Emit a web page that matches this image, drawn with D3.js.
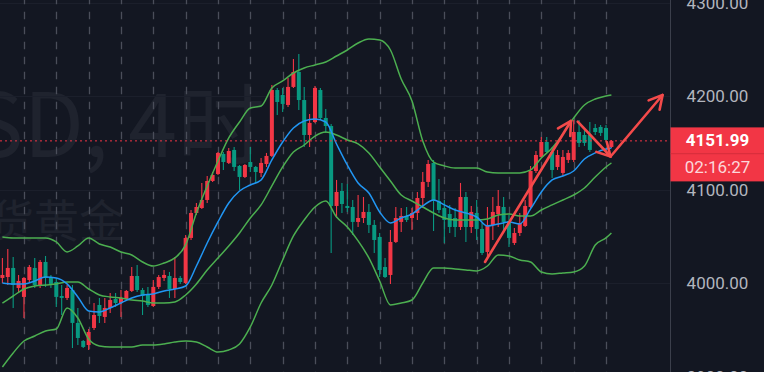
<!DOCTYPE html>
<html><head><meta charset="utf-8">
<script src="https://cdn.jsdelivr.net/npm/d3@7"></script>
<style>html,body{margin:0;padding:0;background:#131722;overflow:hidden}svg{display:block}</style>
</head><body>
<svg id="chart" width="764" height="372"></svg>
<script>
// ---------- DATA (XAUUSD 4H, candle index 0..113) ----------
const opens = [4005.4,4006.4,4016.1,3994.7,3985.1,4003.2,4016.1,3997.9,4022.5,4005.4,
4001.1,3986.1,3984.0,3992.5,3957.3,3938.0,3933.7,3951.9,3976.5,3963.7,
3973.3,3982.9,3978.6,3982.9,3991.5,4007.5,3992.5,3987.2,3975.4,3995.8,
4005.4,4007.5,3993.6,4005.4,4000.0,4048.2,4074.9,4080.2,4088.8,4109.1,
4116.6,4138.0,4128.4,4142.3,4125.2,4113.4,4129.4,4124.1,4117.7,4127.3,
4135.9,4206.4,4201.1,4190.4,4209.7,4225.7,4195.7,4158.3,4172.2,4206.4,
4176.5,4167.9,4082.4,4098.4,4082.4,4081.3,4065.3,4069.5,4076.0,4062.1,
4049.2,4017.1,4008.6,4043.9,4065.3,4071.7,4069.5,4074.9,4090.9,4108.1,
4128.4,4087.7,4080.2,4073.8,4069.5,4059.9,4092.0,4059.9,4074.9,4057.8,
4033.2,4062.1,4073.8,4081.3,4066.3,4042.8,4053.5,4061.0,4081.3,4119.8,
4134.8,4150.8,4140.1,4124.1,4117.7,4131.6,4131.6,4161.5,4158.3,4158.3,
4165.8,4166.9,4165.8,4145.5];
const highs = [4026.8,4036.4,4027.8,4008.6,4006.4,4019.3,4026.8,4024.6,4028.9,4008.6,
4005.4,3997.9,3997.9,3997.9,3973.3,3939.1,3950.8,3978.6,3984.0,3984.0,
3989.3,3989.3,3992.5,3992.5,4017.1,4019.3,3994.7,3995.8,4003.2,4008.6,
4013.9,4011.8,4027.8,4007.5,4051.4,4078.1,4085.6,4107.0,4114.5,4118.7,
4140.1,4140.1,4144.4,4145.5,4126.2,4127.3,4145.5,4125.2,4133.7,4139.1,
4211.8,4208.6,4208.6,4219.3,4239.6,4244.9,4209.7,4180.8,4210.7,4208.6,
4186.1,4170.1,4110.2,4107.0,4105.9,4088.8,4094.1,4092.0,4084.5,4067.4,
4053.5,4026.8,4056.7,4081.3,4080.2,4081.3,4080.2,4097.4,4118.7,4131.6,
4131.6,4111.3,4088.8,4083.5,4080.2,4107.0,4097.4,4082.4,4088.8,4064.2,
4081.3,4092.0,4099.5,4092.0,4072.8,4058.9,4074.9,4088.8,4125.2,4141.2,
4156.2,4156.2,4145.5,4142.3,4142.3,4142.3,4174.4,4174.4,4163.7,4172.2,
4170.1,4169.0,4169.0,4153.0];
const lows = [4000.0,3997.9,3973.3,3989.3,3962.6,4001.1,3994.7,3994.7,3995.8,3994.7,
3974.4,3965.8,3981.8,3930.5,3933.7,3930.5,3928.4,3949.8,3957.3,3957.3,
3967.9,3974.4,3963.7,3981.8,3990.4,3990.4,3965.8,3974.4,3974.4,3993.6,
4002.2,3984.0,3984.0,3999.0,3999.0,4046.0,4072.8,4079.2,4085.6,4108.1,
4115.5,4120.9,4127.3,4119.8,4099.5,4112.3,4118.7,4107.0,4113.4,4124.1,
4134.8,4179.7,4182.9,4188.3,4208.6,4185.1,4145.5,4145.5,4171.2,4174.4,
4160.5,4032.1,4069.5,4074.9,4076.0,4051.4,4059.9,4064.2,4053.5,4032.1,
4006.4,4005.4,3999.0,4042.8,4054.6,4065.3,4056.7,4067.4,4080.2,4102.7,
4055.6,4074.9,4042.8,4053.5,4049.2,4056.7,4043.9,4053.5,4046.0,4030.0,
4026.8,4046.0,4059.9,4053.5,4038.5,4040.7,4050.3,4059.9,4080.2,4117.7,
4133.7,4139.1,4112.3,4120.9,4114.5,4128.4,4129.4,4145.5,4146.6,4140.1,
4158.3,4157.2,4150.8,4144.4];
const closes = [4008.6,4016.1,3997.9,4002.2,4005.4,4017.1,3997.9,4022.5,4005.4,3999.0,
3985.1,3984.0,3994.7,3957.3,3941.2,3931.6,3947.6,3965.8,3964.7,3973.3,
3981.8,3978.6,3984.0,3991.5,4007.5,3992.5,3986.1,3976.5,3995.8,4006.4,
4008.6,3993.6,4005.4,4001.1,4048.2,4074.9,4081.3,4088.8,4109.1,4115.5,
4139.1,4129.4,4141.2,4124.1,4113.4,4126.2,4124.1,4118.7,4128.4,4135.9,
4206.4,4193.6,4191.5,4209.7,4225.7,4195.7,4158.3,4171.2,4208.6,4176.5,
4167.9,4082.4,4097.4,4084.5,4080.2,4065.3,4069.5,4076.0,4062.1,4046.0,
4013.9,4006.4,4043.9,4069.5,4071.7,4067.4,4074.9,4090.9,4108.1,4127.3,
4087.7,4078.1,4067.4,4059.9,4059.9,4092.0,4059.9,4076.0,4057.8,4032.1,
4062.1,4076.0,4082.4,4065.3,4048.2,4053.5,4064.2,4082.4,4119.8,4136.9,
4150.8,4140.1,4120.9,4136.9,4134.8,4139.1,4161.5,4149.8,4149.8,4142.3,
4161.5,4160.5,4153.0,4151.99];

// indicator lines, read at every 2nd candle (+ last candle)
const lineIdx = [0,2,4,6,8,10,12,14,16,18,20,22,24,26,28,30,32,34,36,38,40,42,44,46,48,50,52,54,56,58,
60,62,64,66,68,70,72,74,76,78,80,82,84,86,88,90,92,94,96,98,100,102,104,106,108,110,112,113];
const bbUpper = [4049.2,4048.2,4048.2,4048.2,4048.2,4043.9,4033.2,4039.6,4048.2,4041.7,4038.5,4033.2,4030.0,4022.5,4018.2,4021.4,4026.8,4040.7,4074.9,4103.8,
4130.5,4155.1,4172.2,4187.2,4189.3,4208.6,4216.1,4224.6,4230.0,4233.2,4236.4,4242.8,4249.2,4256.7,4261.0,4259.9,4249.2,4218.2,4194.7,4151.9,
4129.4,4125.2,4123.0,4123.0,4123.0,4118.7,4117.7,4117.7,4117.7,4120.9,4133.7,4144.4,4159.4,4176.5,4190.4,4196.8,4200.0,4201.1];
const bbMiddle = [3978.6,3986.1,3993.6,3996.8,3997.9,3999.0,4001.1,4001.1,3993.6,3987.2,3985.1,3984.0,3981.8,3980.8,3978.6,3978.6,3979.7,3987.2,3999.0,4013.9,
4026.8,4039.6,4053.5,4069.5,4083.5,4103.8,4124.1,4140.1,4147.6,4157.2,4161.5,4158.3,4153.0,4148.7,4139.1,4124.1,4109.1,4094.1,4087.7,4081.3,
4074.9,4069.5,4067.4,4067.4,4067.4,4068.5,4072.8,4073.8,4071.7,4071.7,4078.1,4083.5,4088.8,4094.1,4101.6,4113.4,4124.1,4128.4];
const bbLower = [3910.2,3925.2,3938.0,3943.3,3948.7,3950.8,3973.3,3962.6,3940.1,3932.7,3931.6,3931.6,3931.6,3933.7,3933.7,3934.8,3936.9,3938.0,3936.9,3931.6,
3926.2,3928.4,3934.8,3953.0,3978.6,3997.9,4024.6,4050.3,4067.4,4081.3,4087.7,4070.6,4059.9,4045.0,4026.8,4002.2,3976.5,3978.6,3981.8,4000.0,
4016.1,4016.1,4015.0,4013.9,4012.9,4018.2,4030.0,4028.9,4024.6,4022.5,4011.8,4009.7,4010.7,4011.8,4018.2,4040.7,4048.2,4053.5];
const maBlue = [4000.0,3999.0,3999.0,4002.2,4006.4,4005.4,3999.0,3985.1,3970.1,3969.0,3973.3,3978.6,3984.0,3987.2,3988.3,3991.5,3993.6,3996.8,4018.2,4042.8,
4065.3,4085.6,4098.4,4104.8,4110.2,4131.6,4150.8,4165.8,4173.3,4175.4,4172.2,4148.7,4126.2,4107.0,4096.3,4076.0,4064.2,4069.5,4073.8,4082.4,
4088.8,4083.5,4078.1,4074.9,4070.6,4061.0,4063.1,4065.3,4063.1,4079.2,4097.4,4110.2,4114.5,4119.8,4132.6,4139.1,4143.3,4144.4];

const priceTicks = [3900, 4000, 4100, 4200, 4300];
const sessionBreaks = [4,10,16,22,28,34,40,46,52,58,64,70,76,82,88,94,100,106,112];
const lastPrice = 4151.99;
const countdown = "02:16:27";
const watermark1 = "XAUUSD, 4时";
const watermark2 = "现货黄金";
// annotation arrows: [candle index, price] -> [candle index, price]
const arrows = [
  {from:[89.55, 4022.5], to:[105.5, 4173.3]},
  {from:[106.75, 4172.5], to:[112.85, 4135.3]},
  {from:[112.85, 4135.3], to:[122.5, 4201.1]}
];

// ---------- DRAW ----------
const W = 764, H = 372, axisX = 670.5;
const svg = d3.select("#chart");
const x = d3.scaleLinear().domain([0, 113]).range([2.4, 611.4]);
const y = d3.scaleLinear().domain([4000, 4200]).range([283, 96]);

svg.append("rect").attr("width", W).attr("height", H).attr("fill", "#131722");

const plot = svg.append("g");
// watermark
plot.append("text").attr("x", 265).attr("y", 157).attr("text-anchor", "end")
  .attr("font-family", "'Noto Sans CJK SC','Noto Sans',sans-serif").attr("font-size", 88)
  .attr("fill", "#1f232e").text(watermark1);
plot.append("text").attr("x", 124).attr("y", 238).attr("text-anchor", "end")
  .attr("font-family", "'Noto Sans CJK SC',sans-serif").attr("font-size", 45)
  .attr("fill", "#1f232e").text(watermark2);

// horizontal grid
plot.selectAll("line.hg").data(priceTicks).join("line")
  .attr("x1", 0).attr("x2", axisX).attr("y1", d => Math.round(y(d)) + 0.5).attr("y2", d => Math.round(y(d)) + 0.5)
  .attr("stroke", "#1b1f2b").attr("stroke-width", 1);

// session breaks (dashed verticals)
plot.selectAll("line.sb").data(sessionBreaks).join("line")
  .attr("x1", d => Math.round(x(d)) + 0.5).attr("x2", d => Math.round(x(d)) + 0.5)
  .attr("y1", 0).attr("y2", H)
  .attr("stroke", "#4a4e5a").attr("stroke-width", 1.3)
  .attr("stroke-dasharray", "7.5 7.5").attr("stroke-dashoffset", 3.3);

// candles
const idx = d3.range(opens.length);
const up = i => closes[i] >= opens[i];
const col = i => up(i) ? "#f23645" : "#089981";
const cg = plot.append("g");
cg.selectAll("line").data(idx).join("line")
  .attr("x1", i => x(i)).attr("x2", i => x(i))
  .attr("y1", i => y(highs[i])).attr("y2", i => y(lows[i]))
  .attr("stroke", col).attr("stroke-width", 1.1);
cg.selectAll("rect").data(idx).join("rect")
  .attr("x", i => x(i) - 2).attr("width", 4)
  .attr("y", i => y(Math.max(opens[i], closes[i])))
  .attr("height", i => Math.max(1, Math.abs(y(opens[i]) - y(closes[i]))))
  .attr("fill", col);

// indicator lines
const lineGen = vals => d3.line().x((d, k) => x(lineIdx[k])).y(d => y(d)).curve(d3.curveMonotoneX)(vals);
[[bbUpper, "#4caf50"], [bbMiddle, "#4caf50"], [bbLower, "#4caf50"], [maBlue, "#2196f3"]].forEach(([vals, c]) => {
  plot.append("path").attr("d", lineGen(vals)).attr("fill", "none").attr("stroke", c).attr("stroke-width", 1.5);
});

// last price line
plot.append("line").attr("x1", 0).attr("x2", axisX).attr("y1", y(lastPrice)).attr("y2", y(lastPrice))
  .attr("stroke", "#f23645").attr("stroke-width", 1).attr("stroke-dasharray", "2 3");

// arrows
const ag = plot.append("g").attr("stroke", "#f44a4a").attr("stroke-width", 2.6).attr("fill", "none")
  .attr("stroke-linecap", "round").attr("stroke-linejoin", "round");
arrows.forEach(a => {
  const x1 = x(a.from[0]), y1 = y(a.from[1]), x2 = x(a.to[0]), y2 = y(a.to[1]);
  ag.append("line").attr("x1", x1).attr("y1", y1).attr("x2", x2).attr("y2", y2);
  const ang = Math.atan2(y2 - y1, x2 - x1), L = 15, s = 0.5;
  const p1 = [x2 - L * Math.cos(ang - s), y2 - L * Math.sin(ang - s)];
  const p2 = [x2 - L * Math.cos(ang + s), y2 - L * Math.sin(ang + s)];
  ag.append("path").attr("d", `M${p1}L${x2},${y2}L${p2}`);
});

// price axis
svg.append("rect").attr("x", axisX).attr("y", 0).attr("width", W - axisX).attr("height", H).attr("fill", "#131722");
svg.append("line").attr("x1", axisX).attr("x2", axisX).attr("y1", 0).attr("y2", H).attr("stroke", "#3b3f4b").attr("stroke-width", 1);
const axis = d3.axisRight(y).tickValues(priceTicks).tickSize(0).tickFormat(d3.format(".2f"));
const ax = svg.append("g").attr("transform", `translate(${axisX},0)`).call(axis);
ax.select(".domain").remove();
ax.selectAll("text").attr("x", 47).attr("text-anchor", "middle").attr("dy", "0.35em")
  .attr("fill", "#b2b5be").attr("font-family", "Roboto, sans-serif").attr("font-size", 17);

// last price label
const ly = y(lastPrice);
svg.append("rect").attr("x", axisX).attr("y", ly - 13.5).attr("width", W - axisX).attr("height", 54).attr("fill", "#f23645");
svg.append("line").attr("x1", axisX).attr("x2", W).attr("y1", ly + 12.8).attr("y2", ly + 12.8).attr("stroke", "#d42d3b").attr("stroke-width", 1);
svg.append("text").attr("x", axisX + 47).attr("y", ly - 1).attr("dy", "0.35em").attr("text-anchor", "middle")
  .attr("fill", "#ffffff").attr("font-family", "Roboto, sans-serif").attr("font-weight", "bold").attr("font-size", 17).text(d3.format(".2f")(lastPrice));
svg.append("text").attr("x", axisX + 47).attr("y", ly + 26).attr("dy", "0.35em").attr("text-anchor", "middle")
  .attr("fill", "#fcd7db").attr("font-family", "Roboto, sans-serif").attr("font-size", 17).text(countdown);
</script>
</body></html>
